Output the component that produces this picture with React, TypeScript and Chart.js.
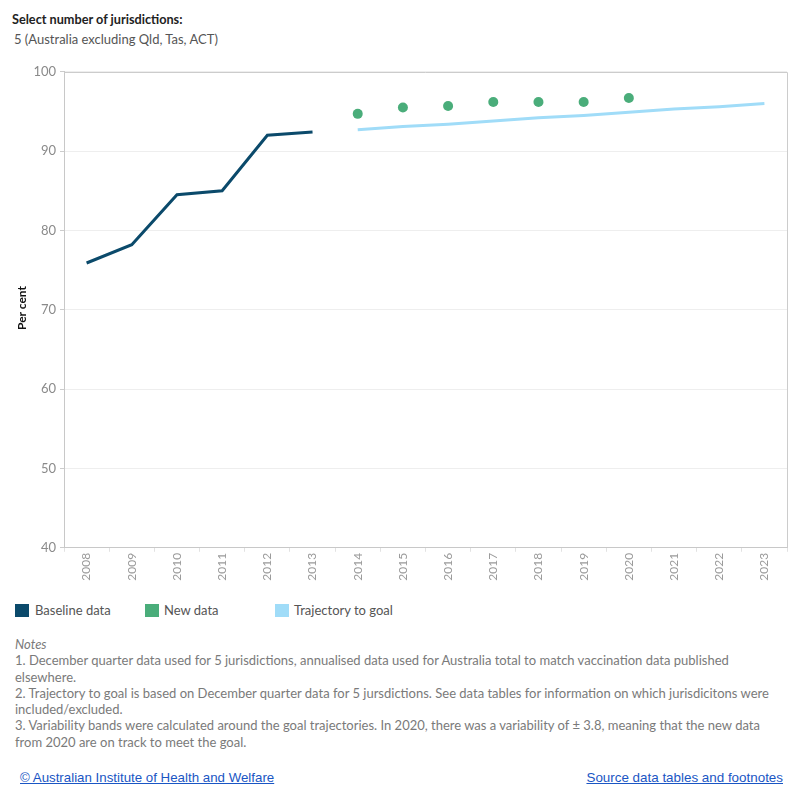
import React, { useEffect, useRef } from "react";
import { Chart, registerables } from "chart.js";

Chart.register(...registerables);

// Year categories along the x axis
const years: string[] = [
  "2008", "2009", "2010", "2011", "2012", "2013", "2014", "2015",
  "2016", "2017", "2018", "2019", "2020", "2021", "2022", "2023",
];

// Per cent values by year (null where the series has no value)
const baselineData: (number | null)[] = [
  75.9, 78.2, 84.5, 85.0, 92.0, 92.4,
  null, null, null, null, null, null, null, null, null, null,
];
const newData: (number | null)[] = [
  null, null, null, null, null, null,
  94.7, 95.5, 95.7, 96.2, 96.2, 96.2, 96.7, null, null, null,
];
const trajectoryData: (number | null)[] = [
  null, null, null, null, null, null,
  92.7, 93.1, 93.4, 93.8, 94.2, 94.5, 94.9, 95.3, 95.6, 96.0,
];

const yTicks: number[] = [40, 50, 60, 70, 80, 90, 100];

const COLOR_BASELINE = "#0b4a6b";
const COLOR_NEW = "#4aad7a";
const COLOR_TRAJECTORY = "#a0dcf8";

const legendItems: { label: string; color: string; left: number; textLeft: number }[] = [
  { label: "Baseline data", color: COLOR_BASELINE, left: 15, textLeft: 35 },
  { label: "New data", color: COLOR_NEW, left: 145, textLeft: 164 },
  { label: "Trajectory to goal", color: COLOR_TRAJECTORY, left: 275, textLeft: 294 },
];

const noteLines: string[] = [
  "1. December quarter data used for 5 jurisdictions, annualised data used for Australia total to match vaccination data published",
  "elsewhere.",
  "2. Trajectory to goal is based on December quarter data for 5 jursdictions. See data tables for information on which jurisdicitons were",
  "included/excluded.",
  "3. Variability bands were calculated around the goal trajectories. In 2020, there was a variability of \u00b1 3.8, meaning that the new data",
  "from 2020 are on track to meet the goal.",
];

const FONT = "Lato, 'Noto Sans', sans-serif";
const LINK_FONT = "'Liberation Sans', Arial, sans-serif";

// Draws the light frame on the top and right of the plot area
const framePlugin = {
  id: "plotFrame",
  afterDraw(chart: any) {
    const { ctx, chartArea } = chart;
    ctx.save();
    ctx.strokeStyle = "#cccccc";
    ctx.lineWidth = 1;
    ctx.beginPath();
    ctx.moveTo(chartArea.left, Math.round(chartArea.top) + 0.5);
    ctx.lineTo(Math.round(chartArea.right) + 0.5, Math.round(chartArea.top) + 0.5);
    ctx.lineTo(Math.round(chartArea.right) + 0.5, chartArea.bottom);
    ctx.stroke();
    ctx.restore();
  },
};

function TrajectoryChart() {
  const canvasRef = useRef<HTMLCanvasElement | null>(null);

  useEffect(() => {
    if (!canvasRef.current) return;
    const chart = new Chart(canvasRef.current, {
      type: "line",
      data: {
        labels: years,
        datasets: [
          {
            label: "Baseline data",
            data: baselineData,
            borderColor: COLOR_BASELINE,
            backgroundColor: COLOR_BASELINE,
            borderWidth: 3,
            pointRadius: 0,
            tension: 0,
            spanGaps: false,
          },
          {
            label: "Trajectory to goal",
            data: trajectoryData,
            borderColor: COLOR_TRAJECTORY,
            backgroundColor: COLOR_TRAJECTORY,
            borderWidth: 3,
            pointRadius: 0,
            tension: 0,
          },
          {
            label: "New data",
            data: newData,
            showLine: false,
            borderColor: COLOR_NEW,
            backgroundColor: COLOR_NEW,
            borderWidth: 0,
            pointRadius: 5,
            pointHoverRadius: 5,
          },
        ],
      },
      options: {
        animation: false,
        responsive: false,
        devicePixelRatio: 1,
        layout: { padding: { top: 10.8, right: 13, left: 0, bottom: 0 } },
        plugins: {
          legend: { display: false },
          tooltip: { enabled: false },
        },
        scales: {
          x: {
            offset: true,
            grid: {
              offset: true,
              drawOnChartArea: false,
              drawTicks: true,
              tickLength: 4,
              color: "#e2e2e2",
            },
            border: { display: true, color: "#c8c8c8" },
            ticks: {
              autoSkip: false,
              minRotation: 90,
              maxRotation: 90,
              color: "#9a9a9a",
              font: { family: FONT, size: 12 },
              padding: 1,
            },
            afterFit: (scale: any) => {
              scale.height = 52.2;
            },
          },
          y: {
            min: 40,
            max: 100,
            afterBuildTicks: (scale: any) => {
              scale.ticks = yTicks.map((v) => ({ value: v }));
            },
            ticks: {
              color: "#8a8a8a",
              font: { family: FONT, size: 13 },
              padding: 4,
            },
            grid: { color: "#eeeeee", tickLength: 4, tickColor: "#cccccc" },
            border: { display: true, color: "#c8c8c8" },
            afterFit: (scale: any) => {
              scale.width = 64;
            },
          },
        },
      },
      plugins: [framePlugin],
    });
    return () => chart.destroy();
  }, []);

  return <canvas ref={canvasRef} width={800} height={540} style={{ display: "block" }} />;
}

export default function App() {
  return (
    <div
      style={{
        position: "absolute",
        left: 0,
        top: 0,
        width: 800,
        height: 800,
        background: "#ffffff",
        fontFamily: FONT,
        overflow: "hidden",
      }}
    >
      <div style={{ position: "absolute", left: 12, top: 11, fontSize: 12.7, fontWeight: 700, color: "#222" }}>
        Select number of jurisdictions:
      </div>
      <div style={{ position: "absolute", left: 14, top: 31, fontSize: 13, color: "#555" }}>
        5 (Australia excluding Qld, Tas, ACT)
      </div>

      <div style={{ position: "absolute", left: 0, top: 60, width: 800, height: 540 }}>
        <TrajectoryChart />
      </div>

      <div
        style={{
          position: "absolute",
          left: 21,
          top: 308,
          transform: "translate(-50%, -50%) rotate(-90deg)",
          fontSize: 12,
          fontWeight: 700,
          color: "#111",
          whiteSpace: "nowrap",
        }}
      >
        Per cent
      </div>

      {legendItems.map((item) => (
        <React.Fragment key={item.label}>
          <div
            style={{
              position: "absolute",
              left: item.left,
              top: 604,
              width: 14,
              height: 13,
              background: item.color,
            }}
          />
          <div
            style={{
              position: "absolute",
              left: item.textLeft,
              top: 602,
              fontSize: 13,
              color: "#555",
              whiteSpace: "nowrap",
            }}
          >
            {item.label}
          </div>
        </React.Fragment>
      ))}

      <div style={{ position: "absolute", left: 15, top: 636, fontSize: 13, lineHeight: "16.3px", color: "#7a7a7a" }}>
        <div style={{ fontStyle: "italic" }}>Notes</div>
        {noteLines.map((line, i) => (
          <div key={i} style={{ whiteSpace: "nowrap" }}>
            {line}
          </div>
        ))}
      </div>

      <div
        style={{
          position: "absolute",
          left: 20,
          top: 770,
          fontSize: 13.3,
          fontFamily: LINK_FONT,
          color: "#1a56c4",
          textDecoration: "underline",
          whiteSpace: "nowrap",
        }}
      >
        © Australian Institute of Health and Welfare
      </div>
      <div
        style={{
          position: "absolute",
          right: 17,
          top: 770,
          fontSize: 13.4,
          fontFamily: LINK_FONT,
          color: "#1a56c4",
          textDecoration: "underline",
          whiteSpace: "nowrap",
        }}
      >
        Source data tables and footnotes
      </div>
    </div>
  );
}
